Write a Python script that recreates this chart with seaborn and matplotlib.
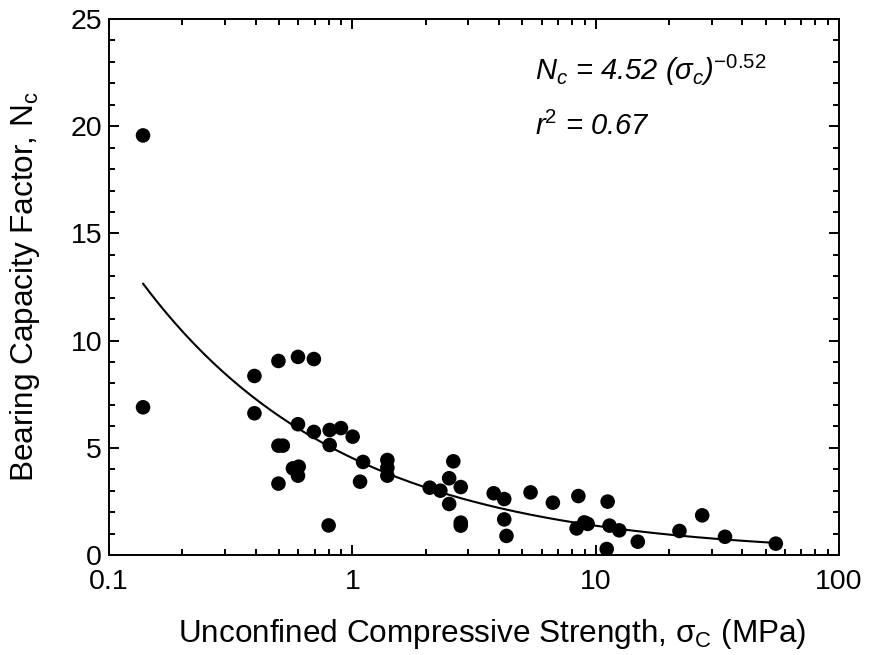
import numpy as np
import pandas as pd
import matplotlib
matplotlib.use("Agg")
import matplotlib.pyplot as plt
import seaborn as sns
from matplotlib.ticker import MultipleLocator, LogLocator, FixedLocator, FixedFormatter, NullFormatter

sigma_c = [0.138, 0.138, 0.396, 0.396, 0.497, 0.598, 0.695, 0.497, 0.518, 0.497,
           0.570, 0.602, 0.598, 0.598, 0.695, 0.807, 0.898, 1.003, 0.807, 0.799,
           1.107, 1.076, 1.393, 1.393, 1.393, 2.08, 2.30, 2.50, 2.60, 2.50,
           2.79, 2.79, 2.79, 3.81, 4.21, 4.21, 4.30, 5.40, 6.67, 8.49,
           8.35, 8.98, 9.27, 11.2, 11.1, 11.4, 12.5, 14.9, 22.1, 27.4,
           34.0, 55.0]
n_c = [19.57, 6.89, 8.35, 6.61, 9.05, 9.24, 9.14, 5.10, 5.10, 3.33,
       4.04, 4.12, 3.70, 6.10, 5.74, 5.83, 5.92, 5.52, 5.13, 1.38,
       4.34, 3.42, 4.43, 4.07, 3.70, 3.14, 3.00, 3.58, 4.37, 2.38,
       3.17, 1.51, 1.37, 2.88, 2.61, 1.66, 0.89, 2.92, 2.44, 2.75,
       1.24, 1.52, 1.45, 2.49, 0.28, 1.37, 1.15, 0.62, 1.12, 1.85,
       0.85, 0.53]

# power-law fit shown on the chart
fit_a = 4.52
fit_b = -0.52
fit_range = [0.138, 55.0]

x_ticks = [0.1, 1, 10, 100]
x_ticklabels = ["0.1", "1", "10", "100"]
y_ticks = [0, 5, 10, 15, 20, 25]

df = pd.DataFrame({"sigma": sigma_c, "nc": n_c})
xf = np.logspace(np.log10(fit_range[0]), np.log10(fit_range[1]), 200)
fit_df = pd.DataFrame({"sigma": xf, "nc": fit_a * xf ** fit_b})

sns.set_style("ticks")
plt.rcParams["font.family"] = ["Liberation Sans", "DejaVu Sans"]
plt.rcParams["mathtext.fontset"] = "custom"
plt.rcParams["mathtext.rm"] = "Liberation Sans"
plt.rcParams["mathtext.it"] = "Liberation Sans:italic"
plt.rcParams["text.color"] = "black"
plt.rcParams["axes.labelcolor"] = "black"
plt.rcParams["axes.edgecolor"] = "black"

fig = plt.figure(figsize=(8.78, 6.55), dpi=100)
ax = fig.add_axes([109 / 878, 1 - 555 / 655, 730 / 878, 536 / 655])

sns.lineplot(data=fit_df, x="sigma", y="nc", color="black", linewidth=1.5, ax=ax)
sns.scatterplot(data=df, x="sigma", y="nc", color="black", s=110, edgecolor="none",
                ax=ax, zorder=3)

ax.set_xscale("log")
ax.set_xlim(0.1, 100)
ax.set_ylim(0, 25)

ax.xaxis.set_major_locator(FixedLocator(x_ticks))
ax.xaxis.set_major_formatter(FixedFormatter(x_ticklabels))
ax.xaxis.set_minor_locator(LogLocator(base=10, subs=np.arange(2, 10)))
ax.xaxis.set_minor_formatter(NullFormatter())
ax.yaxis.set_major_locator(FixedLocator(y_ticks))
ax.yaxis.set_minor_locator(MultipleLocator(1))

for s in ax.spines.values():
    s.set_visible(True)
    s.set_linewidth(1.4)
ax.tick_params(which="both", direction="in", top=True, right=True, width=1.4,
               labelsize=20.5, colors="black")
ax.tick_params(which="major", length=7)
ax.tick_params(which="minor", length=4.5)
ax.tick_params(axis="x", which="major", pad=10)
ax.tick_params(axis="y", which="major", pad=5)

ax.set_xlabel("Unconfined Compressive Strength, σ$_\\mathrm{C}$ (MPa)", fontsize=22.7)
ax.set_ylabel("Bearing Capacity Factor, N$_\\mathrm{c}$", fontsize=22.7)
ax.xaxis.set_label_coords(0.525, -0.115)
ax.yaxis.set_label_coords(-0.092, 0.5)

ax.text(0.5836, 0.886, "N$_c$ = 4.52 (σ$_c$)$^{\\mathit{-0.52}}$", transform=ax.transAxes,
        fontsize=21, style="italic", va="baseline")
ax.text(0.5836, 0.784, "r$^{\\mathit{2}}$ = 0.67", transform=ax.transAxes,
        fontsize=21, style="italic", va="baseline")

fig.savefig("out.png", dpi=100)
